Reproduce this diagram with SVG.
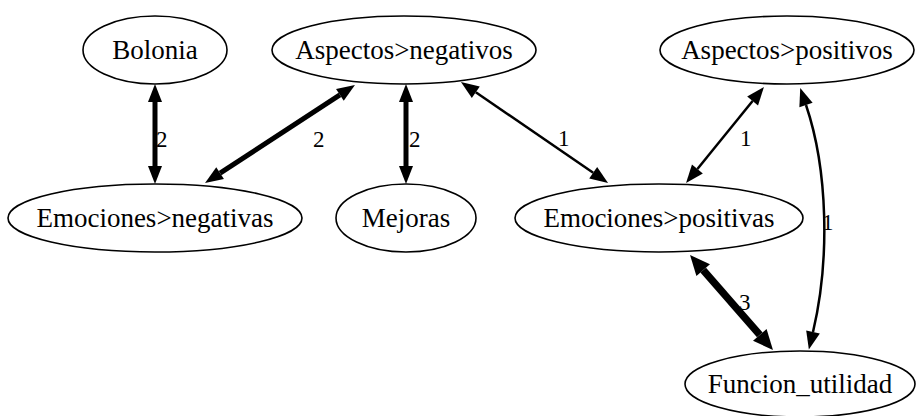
<svg xmlns="http://www.w3.org/2000/svg" width="916" height="416" viewBox="0 0 916 416">
<style>
.node ellipse{fill:#fff;stroke:#000;stroke-width:1.6}
.node text{font-size:27px;text-anchor:middle;fill:#000}
.edge path{fill:none;stroke:#000}
.w1{stroke-width:2.5;marker-start:url(#ah);marker-end:url(#ah)}
.w2{stroke-width:5;marker-start:url(#ah);marker-end:url(#ah)}
.w3{stroke-width:7.5;marker-start:url(#ahl);marker-end:url(#ahl)}
.lbl{font-size:23px;fill:#000}
</style>
<defs>
<marker id="ah" markerUnits="userSpaceOnUse" markerWidth="20" markerHeight="16" refX="0" refY="7" orient="auto-start-reverse" overflow="visible">
<path d="M0,0 L18,7 L0,14 z" fill="#000"/>
</marker>
<marker id="ahl" markerUnits="userSpaceOnUse" markerWidth="22" markerHeight="20" refX="0" refY="9" orient="auto-start-reverse" overflow="visible">
<path d="M0,0 L20,9 L0,18 z" fill="#000"/>
</marker>
</defs>
<rect width="916" height="416" fill="#fff"/>
<g font-family="Liberation Serif, DejaVu Serif, serif">
<g id="edges" class="edge">
<path class="w2" d="M155,102 L155,166"/>
<path class="w2" d="M339.9,94.8 L220.1,173.2"/>
<path class="w2" d="M406,102 L406,166"/>
<path class="w1" d="M475.8,92.2 L593.2,172.8"/>
<path class="w1" d="M752.6,101 L697.4,169"/>
<path class="w1" d="M806,105 C828,170 830,260 813,332"/>
<path class="w3" d="M703.2,270.1 L759.8,334.9"/>
<text class="lbl" x="156" y="147">2</text>
<text class="lbl" x="313" y="147">2</text>
<text class="lbl" x="409" y="147">2</text>
<text class="lbl" x="558" y="146">1</text>
<text class="lbl" x="740" y="146">1</text>
<text class="lbl" x="822" y="230">1</text>
<text class="lbl" x="739" y="310">3</text>
</g>
<g id="bolonia" class="node"><ellipse cx="155" cy="50" rx="72" ry="34"/><text x="155" y="59">Bolonia</text></g>
<g id="aspectos_negativos" class="node"><ellipse cx="404" cy="50" rx="132" ry="34"/><text x="404" y="59">Aspectos&gt;negativos</text></g>
<g id="aspectos_positivos" class="node"><ellipse cx="787" cy="50" rx="127" ry="34"/><text x="787" y="59">Aspectos&gt;positivos</text></g>
<g id="emociones_negativas" class="node"><ellipse cx="155" cy="218" rx="147" ry="34"/><text x="155" y="227">Emociones&gt;negativas</text></g>
<g id="mejoras" class="node"><ellipse cx="406" cy="218" rx="70" ry="34"/><text x="406" y="227">Mejoras</text></g>
<g id="emociones_positivas" class="node"><ellipse cx="659" cy="218" rx="144" ry="34"/><text x="659" y="227">Emociones&gt;positivas</text></g>
<g id="funcion_utilidad" class="node"><ellipse cx="800" cy="384" rx="115" ry="33"/><text x="800" y="393">Funcion_utilidad</text></g>
</g>
</svg>
